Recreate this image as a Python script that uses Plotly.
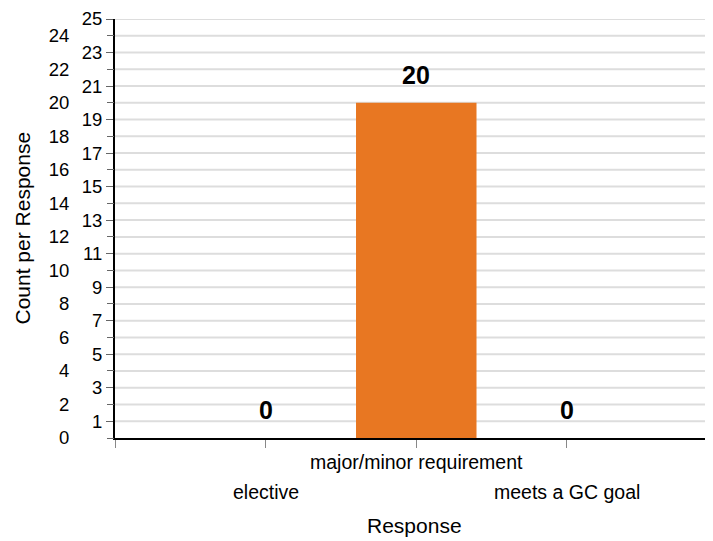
import plotly.graph_objects as go

categories = ["elective", "major/minor requirement", "meets a GC goal"]
counts = [0, 20, 0]
odd_ticks = list(range(1, 26, 2))
even_ticks = list(range(0, 25, 2))

FONT = "Liberation Sans, Arial, sans-serif"
positions = list(range(len(categories)))

fig = go.Figure()
fig.add_trace(go.Bar(
    x=positions, y=counts, width=0.8,
    marker=dict(color="#E87722", line=dict(width=0)),
    showlegend=False, hoverinfo="skip",
))
fig.add_trace(go.Scatter(x=[None], y=[None], yaxis="y2", showlegend=False, hoverinfo="skip"))

annotations = []
for i, (c, v) in enumerate(zip(categories, counts)):
    annotations.append(dict(
        x=i, y=v, xref="x", yref="y", text=f"<b>{v}</b>", showarrow=False,
        yanchor="middle", yshift=28, font=dict(family=FONT, size=25, color="#000"),
    ))
    annotations.append(dict(
        x=i, y=0, xref="x", yref="paper", text=c, showarrow=False,
        yanchor="middle", yshift=(-24 if i % 2 == 1 else -54),
        font=dict(family=FONT, size=19.5, color="#000"),
    ))

annotations.append(dict(
    x=0.5, y=0, xref="paper", yref="paper", text="Response", showarrow=False,
    yanchor="middle", yshift=-87, font=dict(family=FONT, size=21, color="#000"),
))
annotations.append(dict(
    x=0, y=0.5, xref="paper", yref="paper", text="Count per Response", showarrow=False,
    textangle=-90, xanchor="center", xshift=-93, font=dict(family=FONT, size=21, color="#000"),
))

fig.update_layout(
    width=705, height=533,
    margin=dict(l=107, r=0, t=9, b=103),
    paper_bgcolor="white", plot_bgcolor="white",
    font=dict(family=FONT, size=16, color="#000"),
    xaxis=dict(
        range=[-1, 2.97], tickvals=[-1, 0, 1, 2, 3], ticktext=["", "", "", "", ""],
        ticks="outside", ticklen=8, tickcolor="#888", tickwidth=1,
        showgrid=False, zeroline=False,
        showline=True, linecolor="#000", linewidth=2,
    ),
    yaxis=dict(
        range=[0, 25], tickvals=odd_ticks, ticktext=[str(t) for t in odd_ticks],
        ticks="outside", ticklen=7, tickcolor="#666", tickwidth=1,
        ticklabelstandoff=0, ticklabeloverflow="allow",
        showgrid=False, zeroline=False,
        showline=True, linecolor="#000", linewidth=2,
        tickfont=dict(family=FONT, size=18.5, color="#000"),
    ),
    yaxis2=dict(
        range=[0, 25], overlaying="y", side="left", anchor="x",
        tickvals=even_ticks, ticktext=[str(t) for t in even_ticks],
        ticks="outside", ticklen=7, tickcolor="#666", tickwidth=1,
        ticklabelstandoff=34, ticklabeloverflow="allow",
        showgrid=False, zeroline=False, showline=False,
        tickfont=dict(family=FONT, size=18.5, color="#000"),
    ),
    annotations=annotations,
    shapes=[
        dict(type="line", xref="paper", x0=0, x1=1, yref="y", y0=t, y1=t,
             line=dict(color="#dddddd", width=2), layer="below")
        for t in range(1, 26)
    ],
)

fig.write_html("out.html")
